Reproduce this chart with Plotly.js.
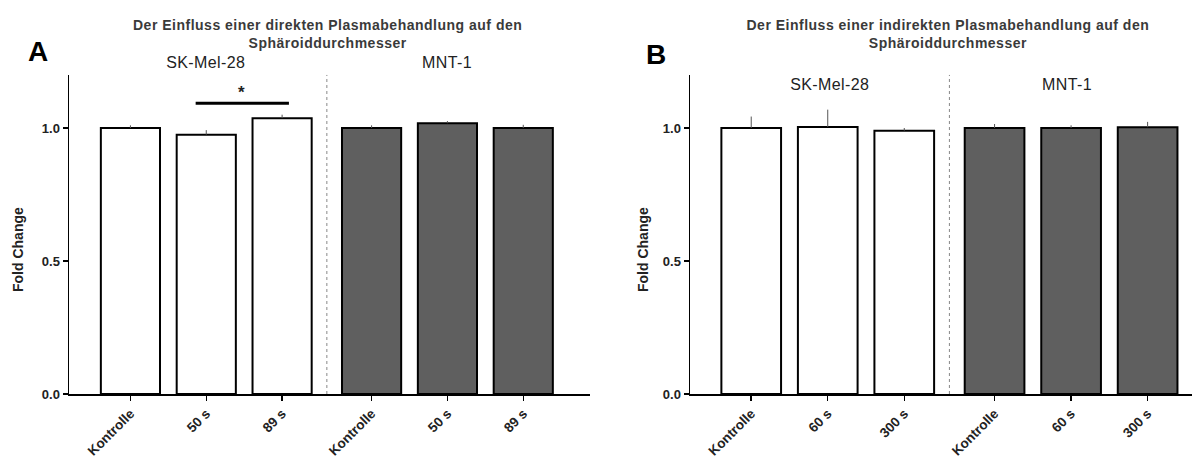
<!DOCTYPE html>
<html>
<head>
<meta charset="utf-8">
<script src="https://cdn.plot.ly/plotly-3.0.1.min.js"></script>
<style>
html,body{margin:0;padding:0;background:#fff;}
#chart{width:1192px;height:459px;}
</style>
</head>
<body>
<div id="chart"></div>
<script>
// ---- data ----
const cellLines = ['SK-Mel-28', 'MNT-1'];
const catsA = ['Kontrolle', '50 s', '89 s', 'Kontrolle', '50 s', '89 s'];
const catsB = ['Kontrolle', '60 s', '300 s', 'Kontrolle', '60 s', '300 s'];
const skA = [1.0, 0.975, 1.037];
const skAErr = [0.01, 0.017, 0.013];
const mntA = [1.0, 1.018, 1.0];
const mntAErr = [0.01, 0.008, 0.012];
const skB = [1.0, 1.004, 0.99];
const skBErr = [0.043, 0.065, 0.01];
const mntB = [1.0, 1.0, 1.003];
const mntBErr = [0.015, 0.01, 0.02];
const titleA = 'Der Einfluss einer direkten Plasmabehandlung auf den<br>Sphäroiddurchmesser';
const titleB = 'Der Einfluss einer indirekten Plasmabehandlung auf den<br>Sphäroiddurchmesser';
const yTicks = [0, 0.5, 1.0];

// ---- layout helpers ----
const GAP = 0.18;
const pos = [0, 1, 2, 3 + GAP, 4 + GAP, 5 + GAP];
const grp1 = pos.slice(0, 3), grp2 = pos.slice(3);
const sep = 2 + (1 + GAP) / 2;
const BW = 0.78;
const FONT = 'Liberation Sans, Arial, sans-serif';
const W = 1192, H = 459;
const px = v => v / W, py = v => 1 - v / H;

function barTrace(x, y, err, fill, xa, ya) {
  return {
    type: 'bar', x: x, y: y, width: BW, xaxis: xa, yaxis: ya,
    marker: {color: fill, line: {color: '#000', width: 2}},
    error_y: {type: 'data', array: err, arrayminus: err.map(() => 0), symmetric: false,
              color: '#555', thickness: 1, width: 0},
    showlegend: false, hoverinfo: 'skip'
  };
}

const data = [
  barTrace(grp1, skA, skAErr, '#ffffff', 'x', 'y'),
  barTrace(grp2, mntA, mntAErr, '#5f5f5f', 'x', 'y'),
  barTrace(grp1, skB, skBErr, '#ffffff', 'x2', 'y2'),
  barTrace(grp2, mntB, mntBErr, '#5f5f5f', 'x2', 'y2')
];

const yDom = [(H - 394) / H, (H - 74.8) / H];
function xAxis(dom, range, labels, anchor) {
  return {
    domain: dom, range: range, anchor: anchor,
    tickmode: 'array', tickvals: pos, ticktext: labels, tickangle: -45,
    ticks: 'outside', ticklen: 5, tickwidth: 1.5, tickcolor: '#000',
    showline: true, linecolor: '#000', linewidth: 1.5,
    showgrid: false, zeroline: false, automargin: false,
    tickfont: {family: FONT, size: 13.5, color: '#222', weight: 'bold'}
  };
}
function yAxis(anchor) {
  return {
    domain: yDom, range: [0, 1.2], anchor: anchor,
    tickmode: 'array', tickvals: yTicks, tickformat: '.1f',
    ticks: 'outside', ticklen: 5, tickwidth: 1.5, tickcolor: '#000',
    showline: true, linecolor: '#000', linewidth: 1.5,
    showgrid: false, zeroline: false, automargin: false,
    tickfont: {family: FONT, size: 13, color: '#222', weight: 'bold'}
  };
}

const ann = (text, x, y, opts) => Object.assign({
  text: text, x: x, y: y, xref: 'paper', yref: 'paper', showarrow: false,
  xanchor: 'center', yanchor: 'middle', font: {family: FONT, size: 14, color: '#222'}
}, opts || {});

const titleFont = {family: FONT, size: 14, color: '#3a3a3a', weight: 'bold'};
const grpFont = {family: FONT, size: 16, color: '#222'};
const axFont = {family: FONT, size: 14, color: '#222', weight: 'bold'};

const layout = {
  width: W, height: H,
  margin: {l: 0, r: 0, t: 0, b: 0},
  paper_bgcolor: '#fff', plot_bgcolor: '#fff',
  xaxis: xAxis([px(69), px(590)], [-0.81, 6.06], catsA, 'y'),
  yaxis: yAxis('x'),
  xaxis2: xAxis([px(690), 1], [-0.80, 5.76], catsB, 'y2'),
  yaxis2: yAxis('x2'),
  bargap: 0,
  annotations: [
    ann(titleA, px(327), py(33.5), {font: titleFont}),
    ann(titleB, px(948), py(33.5), {font: titleFont}),
    ann('<b>A</b>', px(38), py(52), {font: {family: FONT, size: 28, color: '#000'}}),
    ann('<b>B</b>', px(656), py(55), {font: {family: FONT, size: 28, color: '#000'}}),
    ann(cellLines[0], 1, py(63), {xref: 'x', font: grpFont}),
    ann(cellLines[1], 4 + GAP, py(63), {xref: 'x', font: grpFont}),
    ann(cellLines[0], 1.03, py(85), {xref: 'x2', font: grpFont}),
    ann(cellLines[1], 4.12, py(85), {xref: 'x2', font: grpFont}),
    ann('Fold Change', px(18), py(250), {textangle: -90, font: axFont}),
    ann('Fold Change', px(643), py(250), {textangle: -90, font: axFont}),
    ann('<b>*</b>', 1.47, 1.135, {xref: 'x', yref: 'y', font: {family: FONT, size: 17, color: '#222'}})
  ],
  shapes: [
    {type: 'line', xref: 'x', yref: 'y', x0: 0.86, x1: 2.09, y0: 1.093, y1: 1.093,
     line: {color: '#000', width: 3}},
    {type: 'line', xref: 'x', yref: 'y', x0: sep, x1: sep, y0: 0, y1: 1.2,
     line: {color: '#888', width: 1, dash: 'dot'}},
    {type: 'line', xref: 'x2', yref: 'y2', x0: sep, x1: sep, y0: 0, y1: 1.2,
     line: {color: '#888', width: 1, dash: 'dot'}}
  ]
};

Plotly.newPlot('chart', data, layout, {staticPlot: true}).then(() => {
  document.querySelectorAll('.annotation-text').forEach(t => {
    if (t.textContent.indexOf('Einfluss') >= 0) t.style.letterSpacing = '0.5px';
    if (t.textContent.indexOf('SK-Mel') >= 0 || t.textContent.indexOf('MNT') >= 0) t.style.letterSpacing = '0.4px';
  });
});
</script>
</body>
</html>
